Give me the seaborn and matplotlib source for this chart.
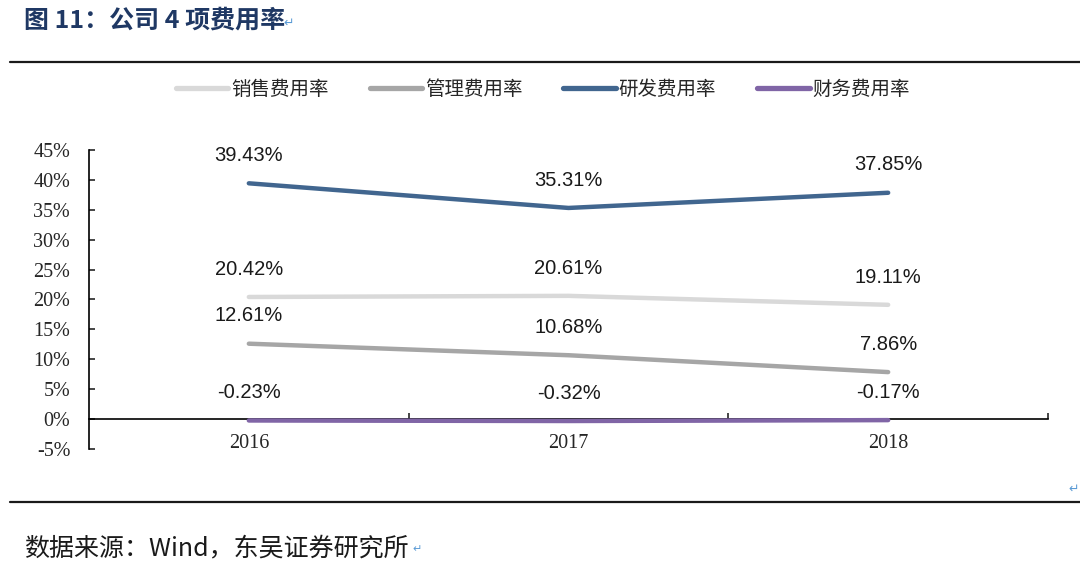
import matplotlib
matplotlib.use("Agg")
import matplotlib.pyplot as plt
from matplotlib.lines import Line2D
import seaborn as sns
import pandas as pd

# ---- data ----
years = ["2016", "2017", "2018"]
series_names = ["销售费用率", "管理费用率", "研发费用率", "财务费用率"]
sales_rate = [20.42, 20.61, 19.11]
admin_rate = [12.61, 10.68, 7.86]
rd_rate = [39.43, 35.31, 37.85]
fin_rate = [-0.23, -0.32, -0.17]
y_ticks = [-5, 0, 5, 10, 15, 20, 25, 30, 35, 40, 45]

colors = ["#d9d9d9", "#a6a6a6", "#41668f", "#8065a6"]

sns.set_style("white")
plt.rcParams["font.family"] = ["Liberation Sans", "Noto Sans CJK SC", "DejaVu Sans"]

rows = []
for name, vals in zip(series_names, [sales_rate, admin_rate, rd_rate, fin_rate]):
    for yr, v in zip(years, vals):
        rows.append({"year": yr, "value": v, "series": name})
df = pd.DataFrame(rows)

fig = plt.figure(figsize=(10.8, 5.65), dpi=100)
ax = fig.add_axes([89 / 1080, 1 - 449 / 565, (1048 - 89) / 1080, (449 - 150) / 565])

sns.lineplot(data=df, x="year", y="value", hue="series", hue_order=series_names,
             palette=colors, linewidth=3.2, ax=ax, sort=False,
             err_style=None, legend=True, zorder=3)
for ln in ax.get_lines():
    ln.set_solid_capstyle("round")

handles, labels = ax.get_legend_handles_labels()
ax.get_legend().remove()

# data labels
for name, vals in zip(series_names, [sales_rate, admin_rate, rd_rate, fin_rate]):
    for i, v in enumerate(vals):
        ax.annotate(f"{v:.2f}%", (i, v), xytext=(0, 20), textcoords="offset points",
                    ha="center", va="center", fontsize=14.5, color="#1a1a1a",
                    family=["Liberation Sans"])

ax.set_xlim(-0.5, 2.5)
ax.set_ylim(-5, 45)
ax.set_yticks(y_ticks)
ax.set_yticklabels([f"{t}%" for t in y_ticks], family=["Liberation Serif"], fontsize=14.5)
ax.set_xlabel("")
ax.set_ylabel("")

for s in ["top", "right"]:
    ax.spines[s].set_visible(False)
ax.spines["left"].set_color("black")
ax.spines["left"].set_linewidth(1.2)
ax.spines["bottom"].set_position(("data", 0))
ax.spines["bottom"].set_color("black")
ax.spines["bottom"].set_linewidth(1.2)
ax.spines["bottom"].set_zorder(1)

ax.tick_params(axis="y", direction="in", length=4.5, width=1.2, pad=13.5, left=True)
ax.set_xticks(range(len(years)))
ax.set_xticklabels(years, family=["Liberation Serif"], fontsize=14.5)
ax.tick_params(axis="x", which="major", length=0, pad=10.5, bottom=True)
ax.set_xticks([0.5, 1.5, 2.5], minor=True)
ax.tick_params(axis="x", which="minor", direction="in", length=4.5, width=1.2, bottom=True)
ax.grid(False)

# legend
leg_handles = [Line2D([0], [0], color=c, lw=3.8, solid_capstyle="round") for c in colors]
fig.legend(leg_handles, series_names, loc="center", bbox_to_anchor=(543 / 1080, 1 - 89 / 565),
           ncol=4, frameon=False, handlelength=2.7, handletextpad=0.15,
           columnspacing=2.1, prop={"family": ["Noto Sans CJK SC"], "size": 14})

# title, rules, footer
fig.text(24 / 1080, 1 - 21 / 565, "图 11：公司 4 项费用率", fontsize=18, fontweight="bold",
         color="#1f3864", va="center", ha="left", family=["Noto Sans CJK SC"])
fig.text(283 / 1080, 1 - 23 / 565, "↵", fontsize=9, color="#5b9bd5", va="center",
         family=["DejaVu Sans"])
fig.add_artist(Line2D([10 / 1080, 1], [1 - 62 / 565] * 2, transform=fig.transFigure,
                      color="#1a1a1a", lw=1.6))
fig.add_artist(Line2D([10 / 1080, 1], [1 - 502 / 565] * 2, transform=fig.transFigure,
                      color="#1a1a1a", lw=1.6))
fig.text(1068 / 1080, 1 - 489 / 565, "↵", fontsize=9, color="#5b9bd5", va="center",
         family=["DejaVu Sans"])
fig.text(24 / 1080, 1 - 548 / 565, "数据来源：Wind，东吴证券研究所", fontsize=18,
         color="#1a1a1a", va="center", ha="left", family=["Noto Sans CJK SC"])
fig.text(412 / 1080, 1 - 549 / 565, "↵", fontsize=8, color="#5b9bd5", va="center",
         family=["DejaVu Sans"])

fig.savefig("out.png", dpi=100)
